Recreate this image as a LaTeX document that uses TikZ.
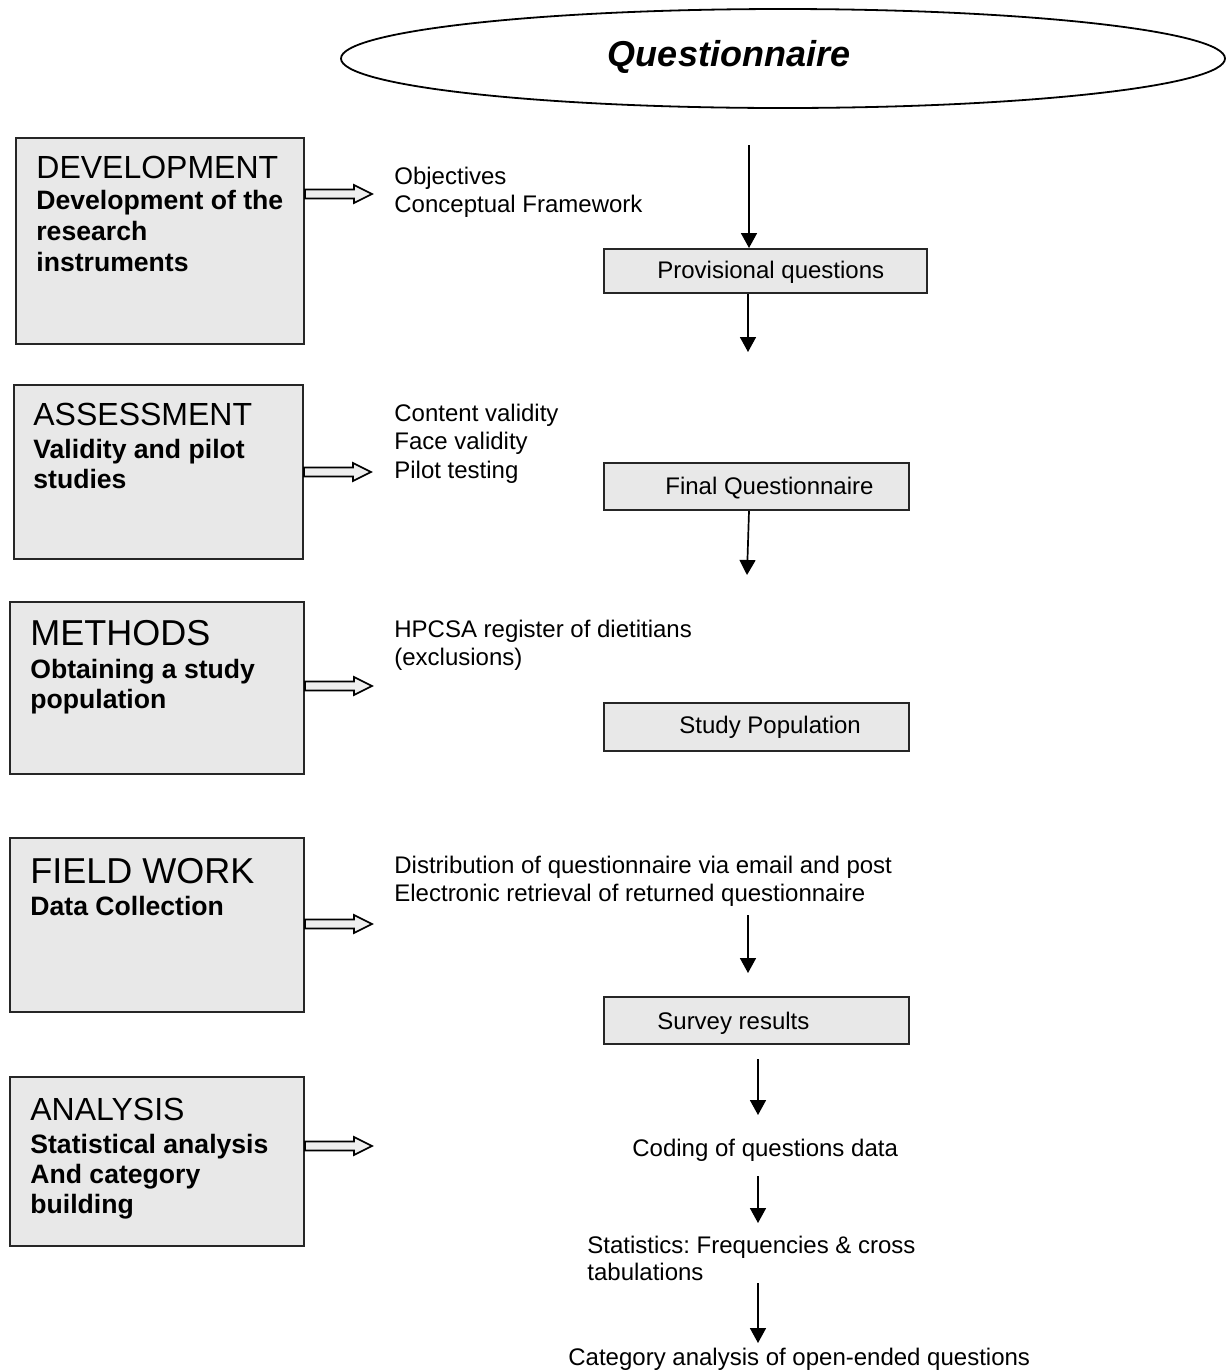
\documentclass[tikz,border=0pt]{standalone}
\usepackage{fontspec}
\setmainfont{Liberation Sans}
\usetikzlibrary{arrows.meta,calc,shapes.geometric}
\definecolor{boxgrey}{HTML}{E8E8E8}
\definecolor{arrowgrey}{HTML}{EEEEEE}
\frenchspacing

% hollow block arrow leaving the right side of a stage box at height #2
\newcommand\blockarrow[2]{%
  \filldraw[blockarr] (#1.east |- 0,#2) ++(0,-4.5) -- ++(49,0) -- ++(0,-4.5)
    -- ++(18,9) -- ++(-18,9) -- ++(0,-4.5) -- ++(-49,0) -- cycle;}

\begin{document}
\begin{tikzpicture}[x=0.5pt,y=-0.5pt,
  stage/.style={draw=black!85,line width=1pt,fill=boxgrey,inner sep=0pt,anchor=north west},
  result/.style={draw=black!85,line width=1pt,fill=boxgrey,inner sep=0pt,anchor=north west},
  stagetitle/.style={inner sep=0pt,anchor=base west,font=\fontsize{16}{18}\selectfont},
  bigtitle/.style={inner sep=0pt,anchor=base west,font=\fontsize{18}{20}\selectfont},
  stagesub/.style={inner sep=0pt,anchor=base west,font=\bfseries\fontsize{13.3}{15.5}\selectfont},
  txt/.style={inner sep=0pt,anchor=base west,font=\fontsize{12}{14}\selectfont},
  flow/.style={line width=0.85pt,-{Triangle[length=7.5pt,width=8pt]}},
  blockarr/.style={draw=black,line width=0.8pt,fill=arrowgrey,line join=miter}
]
\useasboundingbox (0,0) rectangle (1227,1372);

% title ellipse
\node[draw,line width=0.9pt,ellipse,minimum width=442pt,minimum height=49.5pt,inner sep=0pt]
  (quest) at (783,58.5) {};
\node[inner sep=0pt,anchor=base,font=\bfseries\itshape\fontsize{18}{20}\selectfont]
  (questT) at (729,66) {Questionnaire};

% ---- stage boxes (left column) ----
\node[stage,minimum width=144pt,minimum height=103pt] (dev) at (15,137) {};
\node[stagetitle] (devT) at (36,178) {DEVELOPMENT};
\node[stagesub] (devS1) at (36,209) {Development of the};
\node[stagesub] (devS2) at (36,240) {research};
\node[stagesub] (devS3) at (36,271) {instruments};

\node[stage,minimum width=144.5pt,minimum height=87pt] (ass) at (13,384) {};
\node[stagetitle] (assT) at (33,425) {ASSESSMENT};
\node[stagesub] (assS1) at (33,458) {Validity and pilot};
\node[stagesub] (assS2) at (33,488) {studies};

\node[stage,minimum width=147pt,minimum height=86pt] (met) at (9,601) {};
\node[bigtitle] (metT) at (30,645) {METHODS};
\node[stagesub] (metS1) at (30,678) {Obtaining a study};
\node[stagesub] (metS2) at (30,708) {population};

\node[stage,minimum width=147pt,minimum height=87pt] (fld) at (9,837) {};
\node[bigtitle] (fldT) at (30,883) {FIELD WORK};
\node[stagesub] (fldS1) at (30,915) {Data Collection};

\node[stage,minimum width=147pt,minimum height=84.5pt] (ana) at (9,1076) {};
\node[stagetitle] (anaT) at (30,1120) {ANALYSIS};
\node[stagesub] (anaS1) at (30,1153) {Statistical analysis};
\node[stagesub] (anaS2) at (30,1183) {And category};
\node[stagesub] (anaS3) at (30,1213) {building};

% ---- block arrows ----
\blockarrow{dev}{194}
\blockarrow{ass}{472}
\blockarrow{met}{686}
\blockarrow{fld}{924}
\blockarrow{ana}{1146}

% ---- activity lists ----
\node[txt] (obj) at (394,184) {Objectives};
\node[txt] (frame) at (394,212) {Conceptual Framework};

\node[txt] (cval) at (394,421) {Content validity};
\node[txt] (fval) at (394,449) {Face validity};
\node[txt] (pilot) at (394,478) {Pilot testing};

\node[txt] (hpcsa) at (394,637) {HPCSA register of dietitians};
\node[txt] (excl) at (394,665) {(exclusions)};

\node[txt] (dist) at (394,873) {Distribution of questionnaire via email and post};
\node[txt] (retr) at (394,901) {Electronic retrieval of returned questionnaire};

% ---- outcome boxes (right column) ----
\node[result,minimum width=161.5pt,minimum height=22pt] (prov) at (603,248) {};
\node[txt] (provT) at (657,278) {Provisional questions};

\node[result,minimum width=152.5pt,minimum height=23.5pt] (fin) at (603,462) {};
\node[txt] (finT) at (665,494) {Final Questionnaire};

\node[result,minimum width=152.5pt,minimum height=24pt] (pop) at (603,702) {};
\node[txt] (popT) at (679,733) {Study Population};

\node[result,minimum width=152.5pt,minimum height=23.5pt] (srv) at (603,996) {};
\node[txt] (srvT) at (657,1029) {Survey results};

% ---- analysis steps ----
\node[txt] (code) at (632,1156) {Coding of questions data};
\node[txt] (stat1) at (587,1253) {Statistics: Frequencies \& cross};
\node[txt] (stat2) at (587,1280) {tabulations};
\node[txt] (cat) at (568,1365) {Category analysis of open-ended questions};

% ---- flow arrows ----
\coordinate (q0) at (749,145);
\coordinate (p1) at (748,352);
\coordinate (f1) at (747,575);
\coordinate (d0) at (748,915);
\coordinate (d1) at (748,973);
\coordinate (s0) at (758,1059);
\coordinate (s1) at (758,1115);
\coordinate (c0) at (758,1176);
\coordinate (c1) at (758,1223);
\coordinate (t0) at (758,1283);
\coordinate (t1) at (758,1343);

\draw[flow] (q0) -- (q0 |- prov.north);
\draw[flow] (p1 |- prov.south) -- (p1);
\draw[flow] (749,0 |- fin.south) -- (f1);
\draw[flow] (d0) -- (d1);
\draw[flow] (s0) -- (s1);
\draw[flow] (c0) -- (c1);
\draw[flow] (t0) -- (t1);
\end{tikzpicture}
\end{document}
